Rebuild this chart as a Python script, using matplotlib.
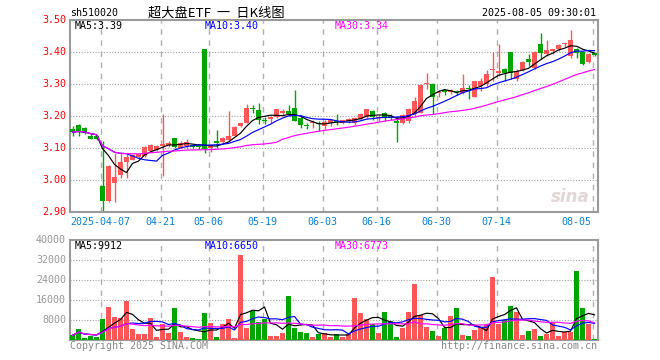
import matplotlib
matplotlib.use("Agg")
import matplotlib.pyplot as plt
import numpy as np
import pandas as pd

W, H = 660, 360

# sh510020 daily bars, 2025-03-28 .. 2025-08-05
opens = [3.158, 3.171, 3.163, 3.137, 3.137, 2.981, 2.934, 2.992, 3.015, 3.056,
         3.064, 3.073, 3.075, 3.091, 3.094, 3.106, 3.108, 3.131, 3.101, 3.106,
         3.110, 3.108, 3.410, 3.101, 3.122, 3.119, 3.125, 3.139, 3.169, 3.179,
         3.226, 3.219, 3.189, 3.192, 3.198, 3.210, 3.216, 3.226, 3.195, 3.171,
         3.177, 3.177, 3.169, 3.177, 3.184, 3.177, 3.184, 3.179, 3.192, 3.198,
         3.216, 3.194, 3.210, 3.200, 3.184, 3.177, 3.184, 3.205, 3.210, 3.299,
         3.299, 3.271, 3.280, 3.275, 3.277, 3.271, 3.288, 3.260, 3.294, 3.299,
         3.344, 3.335, 3.346, 3.401, 3.315, 3.344, 3.377, 3.351, 3.424, 3.393,
         3.403, 3.408, 3.424, 3.387, 3.410, 3.401, 3.369, 3.395]
highs = [3.169, 3.174, 3.167, 3.143, 3.140, 3.122, 3.046, 3.085, 3.085, 3.080,
         3.080, 3.082, 3.106, 3.111, 3.110, 3.205, 3.122, 3.131, 3.122, 3.129,
         3.114, 3.112, 3.410, 3.111, 3.155, 3.135, 3.216, 3.169, 3.179, 3.236,
         3.233, 3.242, 3.197, 3.200, 3.223, 3.221, 3.233, 3.281, 3.200, 3.179,
         3.189, 3.184, 3.189, 3.192, 3.205, 3.189, 3.195, 3.198, 3.210, 3.223,
         3.219, 3.202, 3.212, 3.207, 3.200, 3.205, 3.226, 3.260, 3.299, 3.333,
         3.304, 3.280, 3.283, 3.285, 3.281, 3.330, 3.296, 3.310, 3.320, 3.343,
         3.401, 3.424, 3.351, 3.401, 3.346, 3.371, 3.393, 3.402, 3.458, 3.437,
         3.410, 3.424, 3.429, 3.468, 3.413, 3.403, 3.396, 3.398]
lows = [3.137, 3.137, 3.143, 3.127, 3.125, 2.902, 2.931, 2.931, 3.005, 3.005,
        3.062, 3.070, 3.073, 3.087, 3.090, 3.012, 3.104, 3.101, 3.099, 3.098,
        3.100, 3.098, 3.085, 3.087, 3.101, 3.117, 3.122, 3.137, 3.167, 3.177,
        3.208, 3.174, 3.174, 3.179, 3.195, 3.200, 3.200, 3.184, 3.163, 3.158,
        3.163, 3.153, 3.158, 3.169, 3.171, 3.174, 3.179, 3.171, 3.189, 3.195,
        3.189, 3.184, 3.184, 3.187, 3.119, 3.174, 3.179, 3.200, 3.208, 3.283,
        3.205, 3.260, 3.265, 3.268, 3.265, 3.268, 3.252, 3.258, 3.278, 3.294,
        3.309, 3.325, 3.309, 3.317, 3.309, 3.341, 3.356, 3.348, 3.379, 3.387,
        3.393, 3.403, 3.417, 3.382, 3.382, 3.360, 3.367, 3.389]
closes = [3.150, 3.153, 3.148, 3.129, 3.127, 2.934, 3.044, 3.009, 3.057, 3.072,
          3.077, 3.080, 3.103, 3.108, 3.106, 3.114, 3.116, 3.104, 3.117, 3.120,
          3.104, 3.104, 3.098, 3.108, 3.117, 3.132, 3.139, 3.167, 3.177, 3.224,
          3.221, 3.189, 3.184, 3.195, 3.221, 3.216, 3.207, 3.184, 3.171, 3.169,
          3.181, 3.174, 3.181, 3.186, 3.181, 3.186, 3.192, 3.194, 3.205, 3.221,
          3.198, 3.198, 3.195, 3.195, 3.179, 3.203, 3.223, 3.247, 3.297, 3.304,
          3.260, 3.275, 3.276, 3.280, 3.274, 3.288, 3.283, 3.308, 3.309, 3.330,
          3.348, 3.341, 3.333, 3.333, 3.341, 3.369, 3.369, 3.400, 3.398, 3.405,
          3.408, 3.421, 3.427, 3.436, 3.398, 3.363, 3.393, 3.392]
volumes = [1870, 4400, 930, 1600, 1330, 8400, 13200, 9200, 8800, 15600,
           4400, 2400, 2400, 8800, 1200, 6400, 2800, 12800, 3200, 1200,
           800, 400, 10800, 6800, 1200, 6400, 8400, 800, 34000, 4800,
           11600, 7200, 8400, 1600, 1600, 2800, 17600, 4800, 3200, 2800,
           1200, 2400, 2800, 1200, 2400, 1200, 2400, 16800, 10800, 8400,
           6400, 2800, 11200, 7600, 1200, 4800, 11200, 22400, 10000, 5200,
           3600, 1600, 4800, 9600, 12800, 2000, 1600, 4000, 5200, 6000,
           25200, 6400, 8000, 13600, 11200, 2000, 3600, 4400, 1600, 2400,
           7200, 1600, 3200, 3200, 27600, 12800, 6400, 400]

tick_idx = [5, 15, 23, 32, 42, 51, 61, 71, 87]
tick_labels = ["2025-04-07", "04-21", "05-06", "05-19", "06-03",
               "06-16", "06-30", "07-14", "08-05"]
price_ticks = [3.50, 3.40, 3.30, 3.20, 3.10, 3.00, 2.90]
vol_ticks = [40000, 32000, 24000, 16000, 8000]

RED = "#ff5757"
GREEN = "#00a600"
FRAME = "#9a9a9a"
MONO = "DejaVu Sans Mono"


def fx(px):
    return px / W


def fy(py):
    return 1 - py / H


o = np.array(opens)
h = np.array(highs)
l = np.array(lows)
c = np.array(closes)
v = np.array(volumes)
x = np.arange(len(c))
up = c >= o
colors = np.where(up, RED, GREEN)

close_s = pd.Series(c)
vol_s = pd.Series(v)
ma_cols = [(5, "black"), (10, "#0000ff"), (30, "#ff00ff")]

fig = plt.figure(figsize=(W / 100, H / 100), dpi=100)
ax = fig.add_axes([fx(70), fy(212), fx(528), 192 / H])
axv = fig.add_axes([fx(70), fy(340), fx(528), 100 / H])

xlim = (-2.5 / 6, (598 - 72.5) / 6)
for a in (ax, axv):
    a.set_xlim(*xlim)
    a.set_xticks([])
    a.set_yticks([])
    for sp in a.spines.values():
        sp.set_color(FRAME)
        sp.set_linewidth(1.5)
    for i in tick_idx:
        a.axvline(i - 0.3, color="#b0b0b0", lw=1, ls=(0, (4, 4)), zorder=0)

# price panel
ax.set_ylim(2.90, 3.50)
for p in price_ticks[1:-1]:
    ax.axhline(p, color="#a0a0a0", lw=0.8, ls=(0, (1, 1.5)), zorder=0)
ax.vlines(x, l, h, colors=colors, lw=1, zorder=2)
body = np.maximum(np.abs(c - o), 0.0035)
ax.bar(x, body, bottom=np.minimum(o, c), width=0.78, color=colors, zorder=3)
for n, col in ma_cols:
    ax.plot(x, close_s.rolling(n, min_periods=1).mean(), color=col, lw=0.85, zorder=4)
ax.text(0.985, 0.08, "sina", transform=ax.transAxes, ha="right", va="center",
        fontsize=12, fontstyle="italic", fontweight="bold", color="#e2d6d6", zorder=1)

# volume panel
axv.set_ylim(0, 40000)
for t in vol_ticks[1:]:
    axv.axhline(t, color="#a0a0a0", lw=0.8, ls=(0, (1, 1.5)), zorder=0)
axv.bar(x, v, width=0.83, color=colors, zorder=3)
for n, col in ma_cols:
    axv.plot(x, vol_s.rolling(n, min_periods=1).mean(), color=col, lw=0.85, zorder=4)

# axis labels
for p in price_ticks:
    y = 212 - (p - 2.90) / 0.6 * 192
    fig.text(fx(66), fy(y), f"{p:.2f}", ha="right", va="center",
             fontsize=7.2, family=MONO, color="#ff0000")
for t in vol_ticks:
    y = 340 - t / 40000 * 100
    fig.text(fx(66), fy(y), f"{t}", ha="right", va="center",
             fontsize=7.2, family=MONO, color="#999999")
for k, (i, lab) in enumerate(zip(tick_idx, tick_labels)):
    px = 72.5 + 6 * i - 1.8
    ha = "center"
    if k == 0:
        px, ha = 70, "left"
    elif k == len(tick_idx) - 1:
        px, ha = px - 1, "right"
    fig.text(fx(px), fy(222), lab, ha=ha, va="center",
             fontsize=7.2, family=MONO, color="#0a80d0")

# header texts
fig.text(fx(70), fy(13), "sh510020", ha="left", va="center",
         fontsize=7.2, family=MONO, color="black")
fig.text(fx(216), fy(13), "超大盘ETF  一  日K线图", ha="center", va="center",
         fontsize=9.5, family=["Noto Sans CJK SC", "DejaVu Sans"], color="black")
fig.text(fx(596), fy(13), "2025-08-05 09:30:01", ha="right", va="center",
         fontsize=7.2, family=MONO, color="black")

legend_price = [("MA5:3.39", "black", 75), ("MA10:3.40", "#0000ff", 205),
                ("MA30:3.34", "#ff00ff", 335)]
legend_vol = [("MA5:9912", "black", 75), ("MA10:6650", "#0000ff", 205),
              ("MA30:6773", "#ff00ff", 335)]
for txt, col, px in legend_price:
    fig.text(fx(px), fy(26), txt, ha="left", va="center",
             fontsize=7.2, family=MONO, color=col)
for txt, col, px in legend_vol:
    fig.text(fx(px), fy(246), txt, ha="left", va="center",
             fontsize=7.2, family=MONO, color=col)

fig.text(fx(70), fy(346), "Copyright 2025 SINA.COM", ha="left", va="center",
         fontsize=7.2, family=MONO, color="#888888")
fig.text(fx(597), fy(346), "http://finance.sina.com.cn", ha="right", va="center",
         fontsize=7.2, family=MONO, color="#888888")

fig.savefig("out.png", dpi=100)
plt.close(fig)
